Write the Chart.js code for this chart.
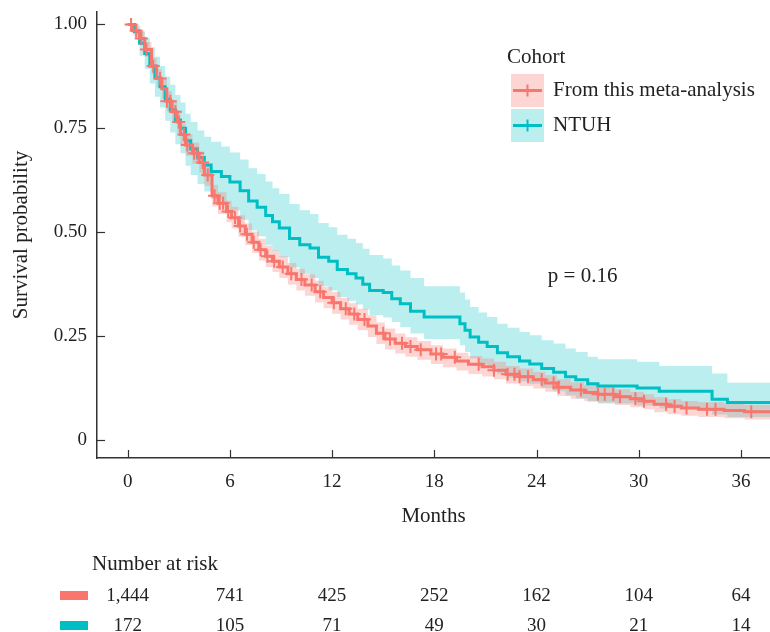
<!DOCTYPE html>
<html>
<head>
<meta charset="utf-8">
<script src="https://cdn.jsdelivr.net/npm/chart.js@4.4.1/dist/chart.umd.min.js"></script>
<style>
  html, body { margin: 0; padding: 0; background: #fff; }
  canvas { display: block; }
</style>
</head>
<body>
<canvas id="km-chart" width="770" height="632"></canvas>
<script>
// ---- data ----
const monthTicks = [0, 6, 12, 18, 24, 30, 36];
const survTicks = [0, 0.25, 0.5, 0.75, 1];

// From this meta-analysis (red): event times, survival, 95% CI
const metaTime  = [0, 0.3, 0.7, 1.0, 1.4, 1.7, 2.0, 2.3, 2.6, 2.9, 3.1, 3.4, 3.8, 4.2, 4.5, 4.95, 5.3, 5.8, 6.1, 6.5, 6.9, 7.3, 7.7, 8.1, 8.5, 8.9, 9.4, 9.9, 10.4, 11.0, 11.5, 12.0, 12.5, 13.0, 13.5, 14.1, 14.6, 15.1, 15.7, 16.3, 17.0, 17.8, 18.5, 19.3, 20.0, 20.8, 21.5, 22.2, 23.0, 23.8, 24.5, 25.2, 26.0, 26.8, 27.6, 28.6, 29.5, 30.3, 30.9, 31.7, 32.5, 33.5, 35.0, 36.2, 37.7];
const metaSurv  = [1, 0.985, 0.966, 0.94, 0.90, 0.87, 0.845, 0.815, 0.79, 0.765, 0.735, 0.71, 0.69, 0.668, 0.638, 0.588, 0.57, 0.55, 0.535, 0.515, 0.495, 0.476, 0.458, 0.442, 0.43, 0.416, 0.40, 0.386, 0.373, 0.357, 0.343, 0.33, 0.316, 0.303, 0.29, 0.274, 0.257, 0.243, 0.233, 0.225, 0.217, 0.207, 0.199, 0.19, 0.182, 0.176, 0.168, 0.158, 0.152, 0.145, 0.137, 0.127, 0.12, 0.114, 0.11, 0.104, 0.099, 0.093, 0.086, 0.081, 0.077, 0.074, 0.071, 0.068, 0.068];
const metaUpper = [1, 0.995, 0.982, 0.958, 0.92, 0.892, 0.868, 0.839, 0.815, 0.79, 0.761, 0.736, 0.716, 0.694, 0.664, 0.614, 0.596, 0.576, 0.561, 0.541, 0.521, 0.502, 0.484, 0.468, 0.456, 0.442, 0.426, 0.412, 0.399, 0.383, 0.369, 0.356, 0.342, 0.329, 0.316, 0.3, 0.283, 0.268, 0.256, 0.247, 0.238, 0.228, 0.22, 0.21, 0.202, 0.196, 0.188, 0.178, 0.172, 0.164, 0.156, 0.146, 0.139, 0.132, 0.128, 0.122, 0.116, 0.11, 0.103, 0.098, 0.094, 0.091, 0.088, 0.085, 0.085];
const metaLower = [1, 0.975, 0.95, 0.922, 0.88, 0.848, 0.822, 0.791, 0.765, 0.74, 0.709, 0.684, 0.664, 0.642, 0.612, 0.562, 0.544, 0.524, 0.509, 0.489, 0.469, 0.45, 0.432, 0.416, 0.404, 0.39, 0.374, 0.36, 0.347, 0.331, 0.317, 0.304, 0.29, 0.277, 0.264, 0.248, 0.231, 0.218, 0.208, 0.2, 0.193, 0.183, 0.175, 0.167, 0.159, 0.153, 0.146, 0.136, 0.13, 0.124, 0.116, 0.106, 0.099, 0.094, 0.09, 0.084, 0.079, 0.074, 0.067, 0.062, 0.058, 0.055, 0.052, 0.049, 0.049];
const metaCensor = [0.2, 0.5, 0.8, 1.1, 1.5, 1.9, 2.3, 2.5, 2.8, 3.0, 3.3, 3.5, 3.9, 4.1, 4.4, 4.7, 5.1, 5.4, 5.6, 5.9, 6.3, 6.6, 7.0, 7.4, 7.8, 8.2, 8.6, 9.1, 9.6, 10.2, 10.8, 11.3, 12.1, 12.8, 13.3, 13.9, 15.0, 15.4, 16.1, 16.6, 17.2, 18.1, 18.4, 19.2, 20.6, 21.5, 22.3, 22.7, 23.0, 23.5, 24.3, 25.0, 25.3, 26.6, 27.6, 28.0, 28.5, 28.9, 29.8, 30.3, 31.6, 32.1, 32.8, 34.0, 34.5, 36.6];

// NTUH (teal)
const ntuhTime  = [0, 0.4, 0.7, 1.0, 1.3, 1.6, 1.9, 2.2, 2.5, 2.8, 3.1, 3.4, 3.7, 4.1, 4.5, 4.9, 5.5, 6.0, 6.6, 7.1, 7.6, 8.1, 8.5, 8.9, 9.5, 10.1, 10.7, 11.2, 11.8, 12.3, 12.9, 13.4, 13.8, 14.2, 15.0, 15.5, 16.0, 16.6, 17.4, 19.5, 19.8, 20.1, 20.6, 21.1, 21.7, 22.3, 23.0, 23.6, 24.3, 25.0, 25.7, 26.3, 27.0, 27.6, 29.9, 31.2, 34.3, 35.2, 37.7];
const ntuhSurv  = [1, 0.983, 0.955, 0.93, 0.90, 0.872, 0.85, 0.82, 0.795, 0.77, 0.75, 0.72, 0.70, 0.68, 0.662, 0.646, 0.634, 0.621, 0.60, 0.575, 0.56, 0.54, 0.525, 0.51, 0.485, 0.47, 0.462, 0.44, 0.43, 0.41, 0.40, 0.39, 0.375, 0.36, 0.355, 0.34, 0.328, 0.31, 0.296, 0.28, 0.264, 0.248, 0.235, 0.225, 0.21, 0.20, 0.19, 0.183, 0.172, 0.163, 0.152, 0.145, 0.135, 0.13, 0.125, 0.117, 0.098, 0.09, 0.09];
const ntuhUpper = [1, 1.0, 0.985, 0.968, 0.945, 0.922, 0.90, 0.875, 0.855, 0.83, 0.812, 0.785, 0.765, 0.745, 0.73, 0.718, 0.706, 0.692, 0.675, 0.654, 0.64, 0.622, 0.606, 0.592, 0.568, 0.553, 0.544, 0.522, 0.512, 0.494, 0.484, 0.474, 0.46, 0.445, 0.437, 0.42, 0.408, 0.39, 0.37, 0.355, 0.338, 0.32, 0.307, 0.296, 0.28, 0.27, 0.26, 0.252, 0.24, 0.232, 0.22, 0.212, 0.20, 0.194, 0.188, 0.178, 0.16, 0.138, 0.138];
const ntuhLower = [1, 0.965, 0.925, 0.893, 0.858, 0.826, 0.80, 0.768, 0.74, 0.712, 0.69, 0.66, 0.638, 0.616, 0.598, 0.58, 0.566, 0.552, 0.53, 0.505, 0.49, 0.47, 0.455, 0.44, 0.415, 0.40, 0.39, 0.37, 0.36, 0.344, 0.335, 0.326, 0.314, 0.301, 0.295, 0.284, 0.272, 0.256, 0.243, 0.228, 0.212, 0.196, 0.183, 0.173, 0.159, 0.15, 0.141, 0.135, 0.125, 0.117, 0.107, 0.1, 0.092, 0.088, 0.083, 0.076, 0.061, 0.055, 0.055];

// number at risk at monthTicks
const riskMeta = [1444, 741, 425, 252, 162, 104, 64];
const riskNtuh = [172, 105, 71, 49, 30, 21, 14];

const pValueText = "p = 0.16";

// ---- styling ----
const red = "#F8766D";
const teal = "#00BFC4";
const redBand = "rgba(248, 118, 109, 0.30)";
const tealBand = "rgba(0, 191, 196, 0.27)";
const serif = "'Liberation Serif', 'DejaVu Serif', serif";
const inkColor = "#222";

const toPoints = (xs, ys) => xs.map((t, i) => ({ x: t, y: ys[i] }));

// survival value at a time
function survAt(times, surv, t) {
  let s = surv[0];
  for (let i = 0; i < times.length; i++) {
    if (times[i] <= t) s = surv[i];
  }
  return s;
}

// no label overflow padding, the plot box is fixed
function noPadding(scale) {
  scale.paddingTop = 0;
  scale.paddingBottom = 0;
  scale.paddingLeft = 0;
  scale.paddingRight = 0;
}

const kmExtras = {
  id: "kmExtras",
  afterDraw(chart) {
    const { ctx, chartArea } = chart;
    const x = chart.scales.x;
    const y = chart.scales.y;
    ctx.save();

    // inward tick marks
    ctx.strokeStyle = "#333";
    ctx.lineWidth = 1.2;
    monthTicks.forEach((v) => {
      const px = Math.round(x.getPixelForValue(v)) + 0.5;
      ctx.beginPath();
      ctx.moveTo(px, chartArea.bottom);
      ctx.lineTo(px, chartArea.bottom - 8);
      ctx.stroke();
    });
    survTicks.forEach((v) => {
      const py = Math.round(y.getPixelForValue(v)) + 0.5;
      ctx.beginPath();
      ctx.moveTo(chartArea.left, py);
      ctx.lineTo(chartArea.left + 8, py);
      ctx.stroke();
    });

    // p value
    ctx.fillStyle = inkColor;
    ctx.font = "21px " + serif;
    ctx.textAlign = "center";
    ctx.textBaseline = "middle";
    ctx.fillText(pValueText, x.getPixelForValue(26.7), y.getPixelForValue(0.393));

    // legend
    ctx.textAlign = "left";
    ctx.font = "21px " + serif;
    ctx.fillText("Cohort", 507, 57);
    const keys = [
      { label: "From this meta-analysis", line: red, band: redBand, top: 74 },
      { label: "NTUH", line: teal, band: tealBand, top: 109 },
    ];
    keys.forEach((k) => {
      ctx.fillStyle = k.band;
      ctx.fillRect(511, k.top, 33, 33);
      const cy = k.top + 16.5;
      ctx.strokeStyle = k.line;
      ctx.lineWidth = 3;
      ctx.beginPath();
      ctx.moveTo(513, cy);
      ctx.lineTo(542, cy);
      ctx.stroke();
      ctx.lineWidth = 2;
      ctx.beginPath();
      ctx.moveTo(527.5, cy - 6);
      ctx.lineTo(527.5, cy + 6);
      ctx.stroke();
      ctx.fillStyle = inkColor;
      ctx.fillText(k.label, 553, cy);
    });

    // number at risk table
    ctx.font = "21px " + serif;
    ctx.fillText("Number at risk", 92, 564);
    ctx.font = "19px " + serif;
    const rows = [
      { values: riskMeta, color: red, cy: 596 },
      { values: riskNtuh, color: teal, cy: 626 },
    ];
    rows.forEach((r) => {
      ctx.fillStyle = r.color;
      ctx.fillRect(60, r.cy - 5, 28, 9);
      ctx.fillStyle = inkColor;
      ctx.textAlign = "center";
      r.values.forEach((n, i) => {
        ctx.fillText(n.toLocaleString("en-US"), x.getPixelForValue(monthTicks[i]), r.cy);
      });
      ctx.textAlign = "left";
    });

    ctx.restore();
  },
};

const bandStyle = {
  borderWidth: 0,
  pointRadius: 0,
  stepped: "before",
};

new Chart(document.getElementById("km-chart"), {
  type: "line",
  data: {
    datasets: [
      {
        label: "meta censor",
        type: "scatter",
        data: metaCensor.map((t) => ({ x: t, y: survAt(metaTime, metaSurv, t) })),
        pointStyle: "cross",
        pointRadius: 6.5,
        borderColor: red,
        borderWidth: 2,
        showLine: false,
      },
      {
        label: "From this meta-analysis",
        data: toPoints(metaTime, metaSurv),
        borderColor: red,
        borderWidth: 3,
        pointRadius: 0,
        stepped: "before",
        fill: false,
      },
      {
        label: "NTUH",
        data: toPoints(ntuhTime, ntuhSurv),
        borderColor: teal,
        borderWidth: 3,
        pointRadius: 0,
        stepped: "before",
        fill: false,
      },
      { ...bandStyle, label: "meta upper", data: toPoints(metaTime, metaUpper), fill: "+1", backgroundColor: redBand },
      { ...bandStyle, label: "meta lower", data: toPoints(metaTime, metaLower), fill: false },
      { ...bandStyle, label: "ntuh upper", data: toPoints(ntuhTime, ntuhUpper), fill: "+1", backgroundColor: tealBand },
      { ...bandStyle, label: "ntuh lower", data: toPoints(ntuhTime, ntuhLower), fill: false },
    ],
  },
  options: {
    responsive: false,
    animation: false,
    layout: { autoPadding: false, padding: { top: 12, right: 0, bottom: 0, left: 0 } },
    plugins: {
      legend: { display: false },
      tooltip: { enabled: false },
    },
    scales: {
      x: {
        type: "linear",
        min: -1.8,
        max: 37.7,
        afterBuildTicks: (scale) => {
          scale.ticks = monthTicks.map((v) => ({ value: v }));
        },
        afterFit: (scale) => {
          scale.height = 174;
          noPadding(scale);
        },
        grid: { display: true, drawOnChartArea: false, drawTicks: false },
        border: { display: true, color: "#333", width: 1.5 },
        ticks: {
          padding: 13,
          color: inkColor,
          font: { family: serif, size: 19 },
        },
        title: {
          display: true,
          text: "Months",
          color: inkColor,
          font: { family: serif, size: 21 },
          padding: { top: 0, bottom: 103 },
        },
      },
      y: {
        type: "linear",
        min: -0.0434,
        max: 1.03,
        afterBuildTicks: (scale) => {
          scale.ticks = survTicks.map((v) => ({ value: v }));
        },
        afterFit: (scale) => {
          scale.width = 97;
          noPadding(scale);
        },
        grid: { display: true, drawOnChartArea: false, drawTicks: false },
        border: { display: true, color: "#333", width: 1.5 },
        ticks: {
          padding: 10,
          color: inkColor,
          font: { family: serif, size: 19 },
          callback: (v) => (v === 0 ? "0" : v.toFixed(2)),
        },
        title: {
          display: true,
          text: "Survival probability",
          color: inkColor,
          font: { family: serif, size: 21 },
          padding: { top: 9, bottom: 0 },
        },
      },
    },
  },
  plugins: [kmExtras],
});
</script>
</body>
</html>
